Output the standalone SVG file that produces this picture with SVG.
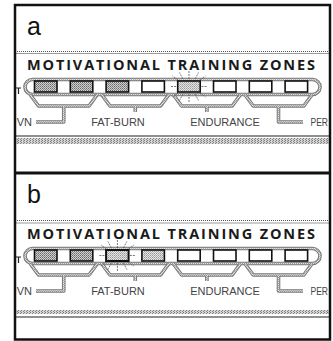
<svg xmlns="http://www.w3.org/2000/svg" width="333" height="341" viewBox="0 0 333 341">
<defs>
<pattern id="stipD" width="2" height="2" patternUnits="userSpaceOnUse"><rect width="2" height="2" fill="#cfcfcf"/><rect width="1" height="1" fill="#6a6a6a"/><rect x="1" y="1" width="1" height="1" fill="#8c8c8c"/></pattern>
<pattern id="stipL" width="2" height="2" patternUnits="userSpaceOnUse"><rect width="2" height="2" fill="#e4e4e4"/><rect width="1" height="1" fill="#9a9a9a"/><rect x="1" y="1" width="1" height="1" fill="#b4b4b4"/></pattern>
<pattern id="band" width="3" height="2" patternUnits="userSpaceOnUse"><rect width="3" height="2" fill="#d6d6d6"/><rect width="1" height="1" fill="#777"/><rect x="2" y="1" width="1" height="1" fill="#888"/></pattern>
</defs>
<style>
.frame{fill:none;stroke:#111;stroke-width:2.5}
.sep{stroke:#111;stroke-width:3}
.dot{stroke:#555;stroke-width:1;stroke-dasharray:1 1;fill:none}
.thin{stroke:#999;stroke-width:1;fill:none}
.blk{stroke:#222;stroke-width:1.2;fill:none}
.dout{fill:none;stroke:#777;stroke-width:3.6;stroke-linejoin:round}
.din{fill:none;stroke:url(#stipL);stroke-width:1.6;stroke-linejoin:round}
.box{stroke:#111;stroke-width:1.6}
.w{fill:#fff}
.d{fill:url(#stipD)}
.l{fill:url(#stipL)}
.ray{stroke:#555;stroke-width:0.8;stroke-dasharray:2 1}
.panel{font-family:"Liberation Sans",Arial,sans-serif;font-size:25px;fill:#111}
.title{font-family:"Open Sans","DejaVu Sans",sans-serif;font-weight:700;font-size:14.5px;fill:#1a1a1a}
.lab{font-family:"Liberation Sans",Arial,sans-serif;font-size:11px;fill:#444}
</style>
<rect x="0" y="0" width="333" height="341" fill="#fff"/>

<!-- Panel a -->
<g id="panel-a">
<text class="panel" x="27" y="35">a</text>
<line class="dot" x1="15" y1="51.5" x2="329" y2="51.5"/>
<line class="thin" x1="15" y1="53.5" x2="329" y2="53.5"/>
<text class="title" x="27" y="70" textLength="288" lengthAdjust="spacing">MOTIVATIONAL TRAINING ZONES</text>
<path class="blk" d="M16 88 H21 M18.5 88 V94"/>
<g id="a-connectors">
<rect class="dout" x="25" y="79.5" width="295" height="15" rx="7.5"/>
<rect class="din" x="25" y="79.5" width="295" height="15" rx="7.5"/>
<path class="dout" d="M30.5 95 L38.5 106 L89 106 L97 95 M63.75 106 V122 H36"/>
<path class="din" d="M30.5 95 L38.5 106 L89 106 L97 95 M63.75 106 V122 H36"/>
<path class="dout" d="M102 95 L110 106 L160.6 106 L168.6 95 M135.3 106 V112"/>
<path class="din" d="M102 95 L110 106 L160.6 106 L168.6 95 M135.3 106 V112"/>
<path class="dout" d="M173.6 95 L181.6 106 L232.2 106 L240.2 95 M206.9 106 V112"/>
<path class="din" d="M173.6 95 L181.6 106 L232.2 106 L240.2 95 M206.9 106 V112"/>
<path class="dout" d="M245.2 95 L253.2 106 L303.8 106 L311.8 95 M278.5 106 V122 H303"/>
<path class="din" d="M245.2 95 L253.2 106 L303.8 106 L311.8 95 M278.5 106 V122 H303"/>
</g>
<g id="a-z1"><rect class="box d" x="34.5" y="81" width="22.5" height="11"/></g>
<g id="a-z2"><rect class="box d" x="70.3" y="81" width="22.5" height="11"/></g>
<g id="a-z3"><rect class="box d" x="106.1" y="81" width="22.5" height="11"/></g>
<g id="a-z4"><rect class="box w" x="141.9" y="81" width="22.5" height="11"/></g>
<g id="a-z5">
<path class="ray" d="M189 79 V71 M183 79 L179.5 72.5 M195 79 L198.5 72.5 M178 80 L172.5 76 M200 80 L205.5 76 M171 86.5 H176.5 M201.5 86.5 H207.5 M189 94 V102 M183 94 L179.5 100.5 M195 94 L198.5 100.5 M178 93 L172.5 97 M200 93 L205.5 97"/>
<rect class="box l" x="177.7" y="81" width="22.5" height="11"/>
</g>
<g id="a-z6"><rect class="box w" x="213.5" y="81" width="22.5" height="11"/></g>
<g id="a-z7"><rect class="box w" x="249.3" y="81" width="22.5" height="11"/></g>
<g id="a-z8"><rect class="box w" x="285.1" y="81" width="22.5" height="11"/></g>
<g id="a-labels">
<text class="lab" x="32" y="126" text-anchor="end">VN</text>
<text class="lab" x="118" y="126" text-anchor="middle">FAT-BURN</text>
<text class="lab" x="225" y="126" text-anchor="middle">ENDURANCE</text>
<text class="lab" x="310.5" y="126" textLength="17.5" lengthAdjust="spacingAndGlyphs">PER</text>
</g>
<line class="blk" x1="15" y1="136" x2="329" y2="136"/>
<rect x="15" y="138" width="314" height="6" fill="url(#band)"/>
</g>

<!-- Panel b -->
<g id="panel-b">
<text class="panel" x="27" y="203">b</text>
<line class="dot" x1="15" y1="220.5" x2="329" y2="220.5"/>
<line class="thin" x1="15" y1="223" x2="329" y2="223"/>
<text class="title" x="27" y="239" textLength="288" lengthAdjust="spacing">MOTIVATIONAL TRAINING ZONES</text>
<path class="blk" d="M16 257 H21 M18.5 257 V263"/>
<g id="b-connectors" transform="translate(0,169)">
<rect class="dout" x="25" y="79.5" width="295" height="15" rx="7.5"/>
<rect class="din" x="25" y="79.5" width="295" height="15" rx="7.5"/>
<path class="dout" d="M30.5 95 L38.5 106 L89 106 L97 95 M63.75 106 V122 H36"/>
<path class="din" d="M30.5 95 L38.5 106 L89 106 L97 95 M63.75 106 V122 H36"/>
<path class="dout" d="M102 95 L110 106 L160.6 106 L168.6 95 M135.3 106 V112"/>
<path class="din" d="M102 95 L110 106 L160.6 106 L168.6 95 M135.3 106 V112"/>
<path class="dout" d="M173.6 95 L181.6 106 L232.2 106 L240.2 95 M206.9 106 V112"/>
<path class="din" d="M173.6 95 L181.6 106 L232.2 106 L240.2 95 M206.9 106 V112"/>
<path class="dout" d="M245.2 95 L253.2 106 L303.8 106 L311.8 95 M278.5 106 V122 H303"/>
<path class="din" d="M245.2 95 L253.2 106 L303.8 106 L311.8 95 M278.5 106 V122 H303"/>
</g>
<g transform="translate(0,169)">
<g id="b-z1"><rect class="box d" x="34.5" y="81" width="22.5" height="11"/></g>
<g id="b-z2"><rect class="box d" x="70.3" y="81" width="22.5" height="11"/></g>
<g id="b-z3">
<path class="ray" d="M117.4 79 V71 M111.4 79 L107.9 72.5 M123.4 79 L126.9 72.5 M106.4 80 L100.9 76 M128.4 80 L133.9 76 M99.4 86.5 H104.9 M129.9 86.5 H135.9 M117.4 94 V102 M111.4 94 L107.9 100.5 M123.4 94 L126.9 100.5 M106.4 93 L100.9 97 M128.4 93 L133.9 97"/>
<rect class="box l" x="106.1" y="81" width="22.5" height="11" style="stroke-width:2"/>
</g>
<g id="b-z4"><rect class="box l" x="141.9" y="81" width="22.5" height="11"/></g>
<g id="b-z5"><rect class="box w" x="177.7" y="81" width="22.5" height="11"/></g>
<g id="b-z6"><rect class="box w" x="213.5" y="81" width="22.5" height="11"/></g>
<g id="b-z7"><rect class="box w" x="249.3" y="81" width="22.5" height="11"/></g>
<g id="b-z8"><rect class="box w" x="285.1" y="81" width="22.5" height="11"/></g>
<g id="b-labels">
<text class="lab" x="32" y="126" text-anchor="end">VN</text>
<text class="lab" x="118" y="126" text-anchor="middle">FAT-BURN</text>
<text class="lab" x="225" y="126" text-anchor="middle">ENDURANCE</text>
<text class="lab" x="310.5" y="126" textLength="17.5" lengthAdjust="spacingAndGlyphs">PER</text>
</g>
</g>
<rect x="15" y="310" width="314" height="4" fill="url(#band)"/>
<line class="blk" x1="15" y1="317" x2="329" y2="317"/>
</g>

<!-- Frame -->
<rect class="frame" x="15" y="5" width="315" height="334.5"/>
<line class="sep" x1="15" y1="173" x2="330" y2="173"/>
</svg>
